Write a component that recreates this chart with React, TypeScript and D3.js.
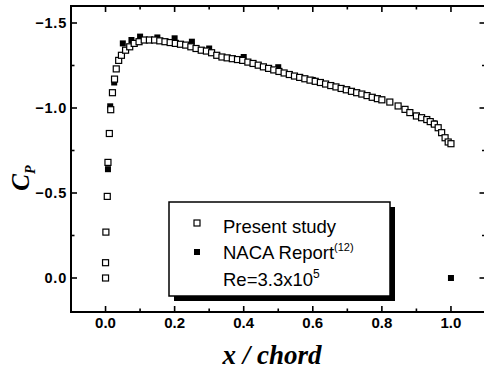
import { useEffect, useRef } from 'react'
import * as d3 from 'd3'

// Present study (open squares): x/chord, Cp
const PRESENT_X = [
  0.0, 0.0, 0.001, 0.005, 0.007, 0.011, 0.015, 0.02, 0.026, 0.031, 0.038, 0.046,
  0.058, 0.07, 0.083, 0.097, 0.112, 0.127, 0.142, 0.157, 0.172, 0.187, 0.202,
  0.217, 0.232, 0.247, 0.262, 0.277, 0.292, 0.307, 0.322, 0.337, 0.352, 0.367,
  0.382, 0.397, 0.412, 0.427, 0.442, 0.457, 0.472, 0.487, 0.502, 0.517, 0.532,
  0.547, 0.562, 0.577, 0.592, 0.607, 0.622, 0.637, 0.652, 0.667, 0.682, 0.697,
  0.712, 0.727, 0.742, 0.757, 0.772, 0.787, 0.8, 0.823, 0.847, 0.867, 0.881,
  0.9, 0.915, 0.93, 0.94, 0.952, 0.963, 0.973, 0.983, 0.992, 1.0,
]
const PRESENT_CP = [
  0.0, -0.09, -0.27, -0.48, -0.68, -0.85, -0.99, -1.09, -1.17, -1.23, -1.28, -1.31,
  -1.34, -1.36, -1.38, -1.39, -1.4, -1.4, -1.4, -1.395, -1.39, -1.385, -1.38,
  -1.375, -1.37, -1.36, -1.35, -1.34, -1.335, -1.325, -1.31, -1.3, -1.295, -1.29,
  -1.285, -1.28, -1.27, -1.262, -1.252, -1.242, -1.233, -1.224, -1.215, -1.206, -1.197,
  -1.188, -1.18, -1.172, -1.164, -1.157, -1.15, -1.141, -1.132, -1.124, -1.115, -1.107,
  -1.098, -1.09, -1.082, -1.073, -1.063, -1.055, -1.048, -1.035, -1.012, -0.992, -0.973,
  -0.953, -0.943, -0.932, -0.92, -0.905, -0.884, -0.855, -0.825, -0.8, -0.79,
]

// NACA Report (filled squares)
const NACA_X = [0.007, 0.0135, 0.025, 0.05, 0.075, 0.1, 0.15, 0.2, 0.25, 0.3, 0.4, 0.5, 0.6, 0.7, 0.8, 0.9, 0.95, 1.0]
const NACA_CP = [-0.64, -1.01, -1.15, -1.38, -1.4, -1.42, -1.415, -1.41, -1.39, -1.35, -1.3, -1.24, -1.165, -1.11, -1.05, -0.955, -0.91, 0.0]

const X_TICKS = [0, 0.2, 0.4, 0.6, 0.8, 1.0]
const X_MINOR = [0.1, 0.3, 0.5, 0.7, 0.9]
const Y_TICKS = [-1.5, -1.0, -0.5, 0.0]
const Y_MINOR = [-1.25, -0.75, -0.25]

const W = 484
const H = 372

export default function App() {
  const ref = useRef<SVGSVGElement>(null)

  useEffect(() => {
    if (!ref.current) return
    const svg = d3.select(ref.current)
    svg.selectAll('*').remove()

    const x = d3.scaleLinear().domain([-0.1, 1.1]).range([71, 485.5])
    const y = d3.scaleLinear().domain([-1.6, 0.2]).range([6, 312])
    const [x0, x1] = x.range()
    const [y0, y1] = y.range()

    const sq = 6

    // ---- filled (NACA) first so open squares sit on top ----
    const naca = NACA_X.map((v, i) => ({ x: v, y: NACA_CP[i] }))
    svg.append('g')
      .selectAll('rect')
      .data(naca)
      .join('rect')
      .attr('x', (d) => x(d.x) - sq / 2)
      .attr('y', (d) => y(d.y) - sq / 2)
      .attr('width', sq)
      .attr('height', sq)
      .attr('fill', '#000')

    const present = PRESENT_X.map((v, i) => ({ x: v, y: PRESENT_CP[i] }))
    svg.append('g')
      .selectAll('rect')
      .data(present)
      .join('rect')
      .attr('x', (d) => x(d.x) - sq / 2)
      .attr('y', (d) => y(d.y) - sq / 2)
      .attr('width', sq)
      .attr('height', sq)
      .attr('fill', '#fff')
      .attr('stroke', '#000')
      .attr('stroke-width', 1.2)

    // ---- frame ----
    svg.append('rect')
      .attr('x', x0)
      .attr('y', y0)
      .attr('width', x1 - x0)
      .attr('height', y1 - y0)
      .attr('fill', 'none')
      .attr('stroke', '#000')
      .attr('stroke-width', 2)

    // ---- ticks (inward, on all four sides) ----
    const tk = svg.append('g').attr('stroke', '#000').attr('stroke-width', 1.6)
    const xt = [...X_TICKS.map((v) => ({ v, l: 6 })), ...X_MINOR.map((v) => ({ v, l: 3.5 }))]
    xt.forEach((t) => {
      tk.append('line').attr('x1', x(t.v)).attr('x2', x(t.v)).attr('y1', y1).attr('y2', y1 - t.l)
      tk.append('line').attr('x1', x(t.v)).attr('x2', x(t.v)).attr('y1', y0).attr('y2', y0 + t.l)
    })
    const yt = [...Y_TICKS.map((v) => ({ v, l: 6 })), ...Y_MINOR.map((v) => ({ v, l: 3.5 }))]
    yt.forEach((t) => {
      tk.append('line').attr('x1', x0).attr('x2', x0 + t.l).attr('y1', y(t.v)).attr('y2', y(t.v))
      tk.append('line').attr('x1', x1).attr('x2', x1 - t.l).attr('y1', y(t.v)).attr('y2', y(t.v))
    })

    // ---- tick labels ----
    const fmt = d3.format('.1f')
    svg.append('g')
      .selectAll('text')
      .data(X_TICKS)
      .join('text')
      .attr('x', (d) => x(d))
      .attr('y', 328)
      .attr('text-anchor', 'middle')
      .attr('font-family', 'Liberation Sans, Arial, sans-serif')
      .attr('font-weight', 'bold')
      .attr('font-size', 15)
      .text((d) => fmt(d))

    svg.append('g')
      .selectAll('text')
      .data(Y_TICKS)
      .join('text')
      .attr('x', 67)
      .attr('y', (d) => y(d) + 5)
      .attr('text-anchor', 'end')
      .attr('font-family', 'Liberation Sans, Arial, sans-serif')
      .attr('font-weight', 'bold')
      .attr('font-size', 14.5)
      .attr('letter-spacing', 0.8)
      .text((d) => (d === 0 ? '0.0' : fmt(d)))

    // ---- axis titles ----
    svg.append('text')
      .attr('x', 272)
      .attr('y', 364)
      .attr('text-anchor', 'middle')
      .attr('font-family', 'Liberation Serif, Times New Roman, serif')
      .attr('font-weight', 'bold')
      .attr('font-style', 'italic')
      .attr('font-size', 27)
      .text('x / chord')

    const yl = svg.append('text')
      .attr('transform', 'translate(29,178) rotate(-90)')
      .attr('text-anchor', 'middle')
      .attr('font-family', 'Liberation Serif, Times New Roman, serif')
      .attr('font-weight', 'bold')
      .attr('font-style', 'italic')
      .attr('font-size', 25)
    yl.append('tspan').text('C')
    yl.append('tspan').attr('font-size', 14).attr('dy', 6).text('P')

    // ---- legend ----
    const lg = svg.append('g')
    lg.append('rect').attr('x', 174).attr('y', 207).attr('width', 221).attr('height', 94).attr('fill', '#000')
    lg.append('rect')
      .attr('x', 169).attr('y', 202).attr('width', 221).attr('height', 94)
      .attr('fill', '#fff').attr('stroke', '#000').attr('stroke-width', 1.5)
    lg.append('rect')
      .attr('x', 197 - sq / 2).attr('y', 223 - sq / 2).attr('width', sq).attr('height', sq)
      .attr('fill', '#fff').attr('stroke', '#000').attr('stroke-width', 1.2)
    lg.append('rect')
      .attr('x', 197 - sq / 2).attr('y', 252 - sq / 2).attr('width', sq).attr('height', sq)
      .attr('fill', '#000')
    const lt = (yy: number) =>
      lg.append('text')
        .attr('x', 223)
        .attr('y', yy)
        .attr('font-family', 'Liberation Sans, Arial, sans-serif')
        .attr('font-size', 18.5)
    lt(233).text('Present study')
    const t2 = lt(259)
    t2.append('tspan').text('NACA Report')
    t2.append('tspan').attr('font-size', 11).attr('dy', -8).text('(12)')
    const t3 = lt(286)
    t3.append('tspan').text('Re=3.3x10')
    t3.append('tspan').attr('font-size', 12).attr('dy', -8).text('5')
  }, [])

  return (
    <svg
      ref={ref}
      width={W}
      height={H}
      style={{ position: 'absolute', left: 0, top: 0, background: '#fff' }}
    />
  )
}
